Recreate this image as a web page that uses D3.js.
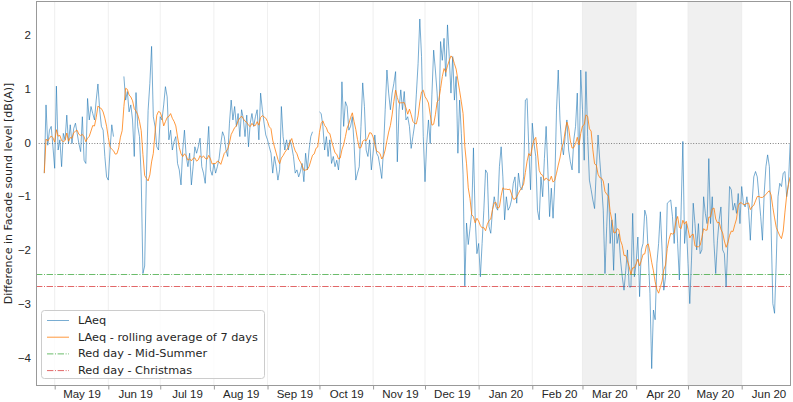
<!DOCTYPE html>
<html>
<head>
<meta charset="utf-8">
<script src="https://cdn.jsdelivr.net/npm/d3@7"></script>
<style>
  html, body { margin: 0; padding: 0; background: #ffffff; }
  svg { display: block; font-family: "DejaVu Sans", sans-serif; }
</style>
</head>
<body>
<svg id="chart" width="793" height="402"></svg>
<script>
// daily LAeq difference [dB(A)], one array per month, first value is 25 Apr 2019
const firstDay = "2019-04-25";
const laeqApr19 = [-0.57, 0.70, -0.05, 0.23, 0.30, -0.08];
const laeqMay19 = [-0.48, 1.05, -0.14, 0.05, -0.45, 0.17, 0.05, 0.51, -0.02, 0.33, -0.02, 0.26, 0.36, 0.17, -0.02, -0.17,
  0.48, -0.33, -0.39, 0.82, 0.42, 0.67, 0.54, 0.42, 0.79, 1.09, 0.61, 0.30, 0.23, -0.26, -0.64];
const laeqJun19 = [-0.70, -0.14, 0.33, 0.11, null, null, null, null, null, 1.23, 0.79, 0.95, 0.57, 0.70, 0.42, -0.26,
  0.93, 0.30, 0.11, -0.64, -2.44, -2.30, -0.64, 0.60, 1.10, 1.79, 0.48, 0.30, -0.08, -0.14];
const laeqJul19 = [0.48, 0.42, 0.70, 1.04, 0.85, 0.05, 0.23, -0.14, 0.02, 0.11, -0.39, -0.51, -0.79, -0.14, 0.23, -0.26,
  -0.45, -0.20, -0.79, -0.45, -0.08, -0.20, -0.08, 0.08, -0.45, -0.57, -0.76, -0.20, 0.30, -0.51, -0.61];
const laeqAug19 = [-0.39, -0.57, -0.45, -0.30, -0.02, 0.20, 0.11, -0.14, -0.26, 0.36, 0.79, 0.42, 0.67, 0.30, 0.54, 0.11,
  0.61, 0.45, 0.11, 0.51, -0.08, 0.36, 0.54, 0.30, 0.48, 0.61, 0.05, 0.92, 0.61, 0.36, 0.14];
const laeqSep19 = [0.05, -0.08, -0.20, -0.57, -0.26, -0.45, -0.70, -0.51, 0.67, 0.11, -0.14, 0.05, -0.14, 0.05, -0.08,
  -0.26, -0.57, -0.51, -0.64, -0.54, -0.39, -0.73, -0.20, -0.51, -0.14, 0.11, 0.20, null, null, null];
const laeqOct19 = [0.57, 0.54, 0.30, -0.14, 0.11, -0.26, 0.05, -0.39, -0.26, -0.45, -0.33, -0.51, -0.14, 1.13, 0.30, 0.76,
  0.67, 0.23, 0.30, 0.48, -0.02, -0.70, -0.57, -0.45, 0.30, 1.11, 0.67, -0.14, -0.26, 0.05, -0.51];
const laeqNov19 = [-0.20, 0.14, -0.20, -0.26, -0.45, -0.67, -0.14, 0.61, 1.35, 0.92, 0.61, 0.92, 1.10, 1.32, -0.36, 0.61,
  0.98, 0.61, 0.95, 0.42, 0.48, 0.30, -0.11, 0.11, 0.33, 0.90, 1.47, 2.30, 1.60, 0.11];
const laeqDec19 = [-0.73, -0.02, 0.42, -0.02, 0.90, 1.72, 1.35, 0.92, 0.30, 1.88, 1.53, 1.94, 1.23, 2.19, 1.60, 0.92,
  1.60, 0.79, 1.23, -0.20, 0.79, 0.17, -0.60, -2.67, -1.50, -1.90, -1.60, -1.30, -0.10, -1.40, -2.07];
const laeqJan20 = [-1.88, -2.50, -1.88, -1.26, -0.51, -0.57, -1.57, -1.69, -1.26, -1.01, -1.20, -1.26, -0.45, -0.08,
  -0.64, -1.44, -1.01, -1.26, -1.20, -1.07, -0.76, -0.64, -1.13, -0.57, -0.82, -0.88, -0.64, 0.79, 0.82, -0.14, -0.88];
const laeqFeb20 = [0.36, -0.02, -0.26, -1.26, -1.44, -0.64, -1.01, -0.30, 0.30, -0.51, -1.38, -0.85, -1.41, -0.76, 0.61,
  1.35, 0.42, -0.02, -0.23, 0.11, 0.42, -0.14, -0.36, -0.51, 0.05, 0.30, 0.92, -0.57, 1.35];
const laeqMar20 = [0.61, -0.33, 1.32, 0.11, -0.70, -0.88, -1.07, -1.23, -0.51, 0.14, -0.33, -0.76, -1.26, -2.44, -1.57,
  -0.76, -1.88, -1.44, -2.38, -1.32, -1.88, -1.70, -2.19, -2.50, -2.75, -2.38, -2.00, -2.69, -2.69, -1.32, -2.50];
const laeqApr20 = [-2.25, -1.76, -2.87, -2.00, -1.88, -1.26, -1.38, -2.07, -2.81, -4.21, -3.12, -3.30, -2.25, -1.88,
  -1.29, -2.00, -2.75, -2.50, -1.13, -1.10, -1.07, -1.38, -1.88, -1.20, -1.88, -2.56, -1.26, 0.02, -1.88, -1.51];
const laeqMay20 = [-2.25, -3.00, -2.19, -1.13, -1.51, -2.00, -1.51, -2.07, -2.00, -1.01, -1.32, -1.51, -0.30, -1.51,
  -1.01, -1.88, -2.44, -1.82, -1.44, -1.20, -2.00, -2.07, -2.69, -1.88, -0.82, -0.88, -1.26, -1.13, -1.32, -0.95, -1.51];
const laeqJun20 = [-0.82, -1.13, -1.20, -1.01, -1.26, -1.82, -1.13, -0.64, -0.54, -0.64, -1.01, -1.38, -1.82, -0.95,
  -0.45, -0.23, -0.45, -1.57, -3.00, -3.18, -2.19, -1.01, -0.76, -0.82, -0.57, -0.54, -1.01, -0.79, -0.02];

const rollingWindow = 7;
const midSummerLevel = -2.44;
const christmasLevel = -2.67;
const shadedSpans = [["2020-03-01", "2020-04-01"], ["2020-05-01", "2020-06-01"]];
const yTicks = [-4, -3, -2, -1, 0, 1, 2];
const legendLabels = ["LAeq", "LAeq - rolling average of 7 days", "Red day - Mid-Summer", "Red day - Christmas"];

const parse = d3.timeParse("%Y-%m-%d");
const values = [].concat(laeqApr19, laeqMay19, laeqJun19, laeqJul19, laeqAug19, laeqSep19, laeqOct19,
  laeqNov19, laeqDec19, laeqJan20, laeqFeb20, laeqMar20, laeqApr20, laeqMay20, laeqJun20);
const start = parse(firstDay);
const data = values.map((v, i) => ({ date: d3.timeDay.offset(start, i), v }));

// trailing mean, skips missing days (min_periods = 1)
const rolling = data.map((d, i) => {
  const win = data.slice(Math.max(0, i - rollingWindow + 1), i + 1).filter(e => e.v != null);
  return { date: d.date, v: win.length ? d3.mean(win, e => e.v) : null };
});

const margin = { top: 1, right: 2, bottom: 16, left: 36 };
const W = 793, H = 402;
const width = W - margin.left - margin.right;
const height = H - margin.top - margin.bottom;
const tickFont = 11.5;

const svg = d3.select("#chart");
const g = svg.append("g").attr("transform", `translate(${margin.left},${margin.top})`);

const x = d3.scaleTime()
  .domain([new Date(2019, 3, 20, 5), new Date(2020, 5, 29, 12)])
  .range([0, width]);
const y = d3.scaleLinear().domain([-4.534, 2.635]).range([height, 0]);
const crisp = (v) => Math.round(v) + 0.5;

// shaded months
g.selectAll("rect.span")
  .data(shadedSpans)
  .enter()
  .append("rect")
  .attr("x", (d) => x(parse(d[0])))
  .attr("width", (d) => x(parse(d[1])) - x(parse(d[0])))
  .attr("y", 0)
  .attr("height", height)
  .attr("fill", "#f0f0f0");

// month grid lines
const monthStarts = d3.timeMonth.range(d3.timeMonth.ceil(x.domain()[0]), x.domain()[1]);
g.append("g")
  .selectAll("line")
  .data(monthStarts)
  .enter()
  .append("line")
  .attr("x1", (d) => x(d)).attr("x2", (d) => x(d))
  .attr("y1", 0).attr("y2", height)
  .attr("stroke", "#ebebeb")
  .attr("stroke-width", 0.8);

// zero line
g.append("line")
  .attr("x1", 0).attr("x2", width)
  .attr("y1", crisp(y(0))).attr("y2", crisp(y(0)))
  .attr("stroke", "#808080")
  .attr("stroke-width", 1)
  .attr("stroke-dasharray", "1,1.65");

// red day lines
const redDays = [
  { v: midSummerLevel, color: "#2ca02c" },
  { v: christmasLevel, color: "#d62728" },
];
g.selectAll("line.red")
  .data(redDays)
  .enter()
  .append("line")
  .attr("x1", 0).attr("x2", width)
  .attr("y1", (d) => crisp(y(d.v))).attr("y2", (d) => crisp(y(d.v)))
  .attr("stroke", (d) => d.color)
  .attr("stroke-opacity", 0.7)
  .attr("stroke-width", 1)
  .attr("stroke-dasharray", "6.4,1.6,1,1.6");

svg.append("clipPath").attr("id", "clip")
  .append("rect").attr("width", width).attr("height", height);

const line = d3.line()
  .defined((d) => d.v != null)
  .x((d) => x(d.date))
  .y((d) => y(d.v));

g.append("path")
  .datum(data)
  .attr("clip-path", "url(#clip)")
  .attr("d", line)
  .attr("fill", "none")
  .attr("stroke", "#1f77b4")
  .attr("stroke-opacity", 0.6)
  .attr("stroke-width", 1);

g.append("path")
  .datum(rolling)
  .attr("clip-path", "url(#clip)")
  .attr("d", line)
  .attr("fill", "none")
  .attr("stroke", "#ff7f0e")
  .attr("stroke-opacity", 0.8)
  .attr("stroke-width", 1);

// Axis Y
const yAxis = g.append("g")
  .call(d3.axisLeft(y).tickValues(yTicks).tickSize(0).tickPadding(5));
yAxis.select(".domain").remove();
yAxis.selectAll("text").attr("font-size", tickFont).attr("fill", "#262626");

// Axis X: labels mid-month, small ticks on month starts
const labelDates = [d3.timeMonth.floor(x.domain()[0])].concat(monthStarts)
  .map((d) => d3.timeHour.offset(d, 15 * 24 + 12))
  .filter((d) => d >= x.domain()[0] && d <= x.domain()[1]);
const xLabels = g.append("g")
  .attr("transform", `translate(0,${height})`)
  .call(d3.axisBottom(x).tickValues(labelDates)
    .tickSize(0).tickPadding(4).tickFormat(d3.timeFormat("%b %y")));
xLabels.select(".domain").remove();
xLabels.selectAll("text").attr("font-size", tickFont).attr("fill", "#262626");

const xMinor = g.append("g")
  .attr("transform", `translate(0,${height})`)
  .call(d3.axisBottom(x).tickValues(monthStarts).tickSize(3.5).tickFormat(""));
xMinor.select(".domain").remove();
xMinor.selectAll("line").attr("stroke", "#999");

// frame
g.append("rect")
  .attr("x", 0.5).attr("y", 0.5)
  .attr("width", width - 1).attr("height", height - 1)
  .attr("fill", "none")
  .attr("stroke", "#999")
  .attr("stroke-width", 1);

// y label
svg.append("text")
  .attr("transform", `translate(12,${margin.top + height / 2}) rotate(-90)`)
  .attr("text-anchor", "middle")
  .attr("font-size", 11)
  .attr("fill", "#262626")
  .text("Difference in Facade sound level [dB(A)]");

// legend
const legend = svg.append("g").attr("transform", "translate(41,310)");
legend.append("rect")
  .attr("x", 0.5).attr("y", 0.5)
  .attr("width", 223).attr("height", 68)
  .attr("rx", 3)
  .attr("fill", "#ffffff").attr("fill-opacity", 0.8)
  .attr("stroke", "#cccccc");
const legendStyles = [
  { color: "#1f77b4", op: 0.6, dash: null },
  { color: "#ff7f0e", op: 0.8, dash: null },
  { color: "#2ca02c", op: 0.7, dash: "6.4,1.6,1,1.6" },
  { color: "#d62728", op: 0.7, dash: "6.4,1.6,1,1.6" },
];
legendLabels.forEach((label, i) => {
  const row = legend.append("g").attr("transform", `translate(0,${10 + i * 16.7})`);
  row.append("line")
    .attr("x1", 6).attr("x2", 28)
    .attr("y1", 0.5).attr("y2", 0.5)
    .attr("stroke", legendStyles[i].color)
    .attr("stroke-opacity", legendStyles[i].op)
    .attr("stroke-dasharray", legendStyles[i].dash);
  row.append("text")
    .attr("x", 37).attr("dy", "0.35em")
    .attr("font-size", 11.3)
    .attr("fill", "#262626")
    .text(label);
});
</script>
</body>
</html>
